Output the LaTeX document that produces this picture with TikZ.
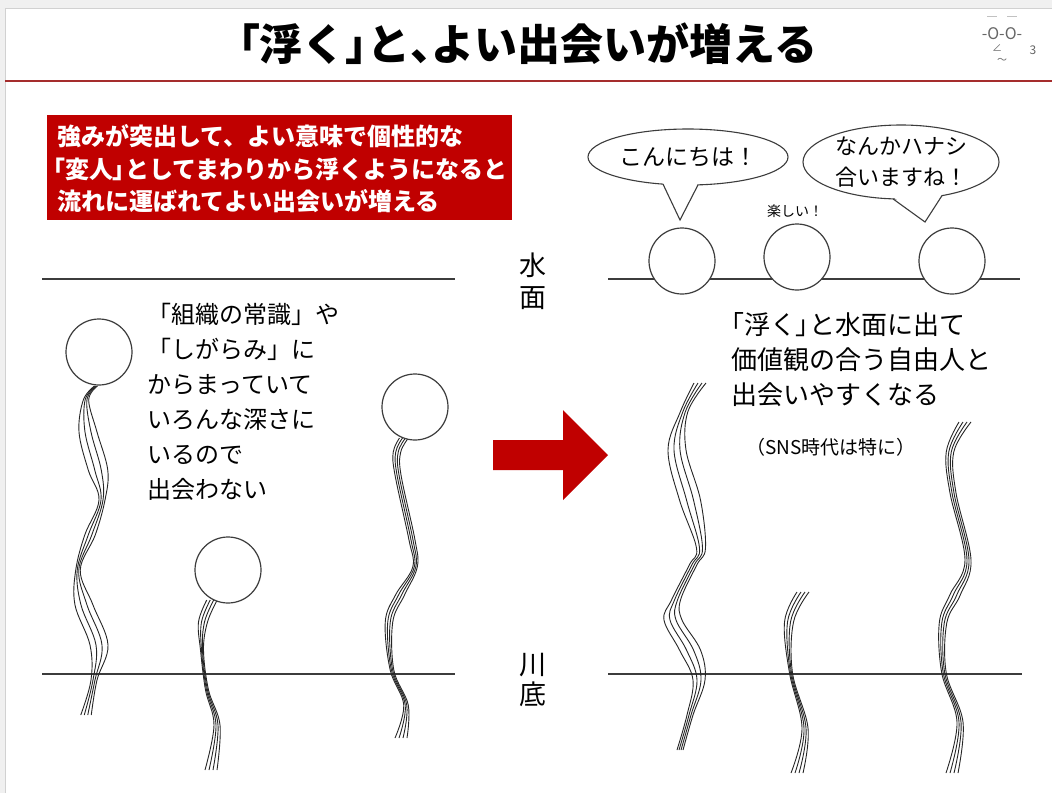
\documentclass[tikz,border=0pt]{standalone}
\usepackage{fontspec}
\usetikzlibrary{shapes.geometric}
\newfontfamily\jp{Noto Sans CJK JP}
\newfontfamily\jph[RawFeature=+palt]{Noto Sans CJK JP}
\definecolor{boxred}{RGB}{192,0,0}
\definecolor{rulered}{RGB}{165,45,45}
\definecolor{inkgray}{RGB}{60,60,60}

% a bundle of four wavy strands through the given points
\newcommand\seaweed[1]{\foreach \k in {-1.5,-0.5,0.5,1.5}{\draw[weed] plot[smooth,tension=0.6] coordinates {#1};}}

\begin{document}
\begin{tikzpicture}[x=1pt,y=-1pt,
  weed/.style={line width=0.9pt, black!85},
  float/.style={circle, draw=inkgray, line width=1.2pt, fill=white, minimum size=66pt, inner sep=0pt},
  level/.style={inkgray, line width=1.3pt},
  bubble/.style={draw=inkgray, line width=1.1pt, fill=white},
  jtext/.style={font=\jp\fontsize{#1}{#1}\selectfont, inner sep=0pt},
  facetext/.style={font=\jp\fontsize{#1}{#1}\selectfont, text=black!60, inner sep=0pt}]

\useasboundingbox (0,0) rectangle (1052,793);
\fill[black!6] (0,0) rectangle (1052,793);
\fill[white] (5,8) rectangle (1052,793);
\draw[black!18] (5,793) -- (5,8) -- (1052,8);

% title and rule
\node[jtext=43, font=\jp\bfseries\fontsize{43}{43}\selectfont] (title) at (528,44)
  {{\jph 「}浮く{\jph 」}と{\jph 、}よい出会いが増える};
\draw[rulered, line width=2pt] (5,81) -- (1052,81);

% face mark
\node[facetext=10] (brow1) at (992,21) {￣};
\node[facetext=10] (brow2) at (1012,21) {￣};
\node[facetext=16] (eyes) at (1002,34) {-O-O-};
\node[facetext=10] (nose) at (997,48) {∠};
\node[facetext=12] (cheek) at (1033,50) {3};
\node[facetext=10] (mouth) at (1002,61) {～};

% red message box
\node[fill=boxred, minimum width=465pt, minimum height=105pt, inner sep=0pt, anchor=north west] (msgbox) at (47,115) {};
\begin{scope}[every node/.style={font=\jp\bfseries\fontsize{24}{24}\selectfont, text=white, inner sep=0pt, anchor=west}]
  \node (m1) at (57,136) {強みが突出して、よい意味で個性的な};
  \node (m2) at (53,169) {{\jph 「}変人{\jph 」}としてまわりから浮くようになると};
  \node (m3) at (57,201) {流れに運ばれてよい出会いが増える};
\end{scope}

% water surface and river bed
\draw[level] (42,279) -- (455,279);
\draw[level] (608,279) -- (1020,279);
\draw[level] (42,674) -- (455,674);
\draw[level] (608,674) -- (1022,674);

\node[jtext=27, align=center, font=\jp\fontsize{27}{32}\selectfont] (surface) at (533,281) {水\\面};
\node[jtext=27, align=center, font=\jp\fontsize{27}{30}\selectfont] (bed) at (533,680) {川\\底};

% left side: strands holding the floats down
\seaweed{({96+1*\k},386) ({86+1.8*\k},400) ({88+6*\k},432) ({98+6.5*\k},470) ({102+2*\k},500) ({90+3.5*\k},535) ({78+1.5*\k},570) ({84+6*\k},605) ({99+6*\k},645) ({94+2*\k},680) ({86+3.5*\k},715)}
\seaweed{({212+3.5*\k},600) ({203+3*\k},622) ({202+1*\k},650) ({207+1*\k},690) ({217+2*\k},725) ({211+4*\k},770)}
\seaweed{({404+3*\k},438) ({397+2.5*\k},452) ({398+2*\k},475) ({412+2*\k},540) ({415+1.5*\k},567) ({400+3*\k},595) ({389+2.5*\k},622) ({392+1.2*\k},670) ({406+1.5*\k},705) ({401+4*\k},738)}

\node[float] (f1) at (99,352) {};
\node[float] (f2) at (228,570) {};
\node[float] (f3) at (415,407) {};

\node[jtext=24, align=left, font=\jp\fontsize{24}{35}\selectfont, anchor=west] (lefttext) at (147,402)
  {「組織の常識」や\\「しがらみ」に\\からまっていて\\いろんな深さに\\いるので\\出会わない};

% arrow
\fill[boxred] (493,440) -- (563,440) -- (563,410) -- (608,455) -- (563,500) -- (563,470) -- (493,470) -- cycle;

% right side: strands left behind
\seaweed{({700+4*\k},383) ({684+2.5*\k},412) ({677+6*\k},450) ({690+7*\k},500) ({701+3*\k},548) ({693+2.5*\k},565) ({676+3*\k},600) ({673+6*\k},620) ({690+7*\k},650) ({699+4*\k},680) ({690+2*\k},715) ({680+2*\k},750)}
\seaweed{({803+4*\k},592) ({789+3*\k},622) ({791+1*\k},673) ({805+2*\k},728) ({797+4*\k},773)}
\seaweed{({965+4*\k},422) ({950+2.5*\k},452) ({953+2*\k},493) ({968+2*\k},560) ({955+3.5*\k},595) ({943+2.5*\k},623) ({944+1.5*\k},673) ({960+2*\k},722) ({952+4*\k},773)}

\node[float] (g1) at (682,261) {};
\node[float] (g2) at (797,257) {};
\node[float] (g3) at (952,261) {};

% speech bubbles
\node[bubble, ellipse, minimum width=200pt, minimum height=56pt, inner sep=0pt,
      font=\jp\fontsize{23}{23}\selectfont] (hello) at (688,157) {こんにちは！};
\fill[white] (662,181) -- (680,220) -- (699,181) -- cycle;
\draw[inkgray, line width=1.1pt] (663,184.1) -- (680,220) -- (698,184.9);

\node[bubble, ellipse, minimum width=196pt, minimum height=74pt, inner sep=0pt, align=center,
      font=\jp\fontsize{22}{31}\selectfont] (talk) at (901,162) {なんかハナシ\\合いますね！};
\fill[white] (892,196) -- (925,222) -- (943,193) -- cycle;
\draw[inkgray, line width=1.1pt] (893,198.9) -- (925,222) -- (942,195.6);

\node[jtext=14] (fun) at (795,211) {楽しい！};

\node[jtext=26, align=left, font=\jp\fontsize{26}{35}\selectfont, anchor=west] (righttext) at (731,360)
  {{\jph 「}浮く{\jph 」}と水面に出て\\価値観の合う自由人と\\出会いやすくなる};
\node[jtext=19] (sns) at (831,447) {（SNS時代は特に）};

\end{tikzpicture}
\end{document}
